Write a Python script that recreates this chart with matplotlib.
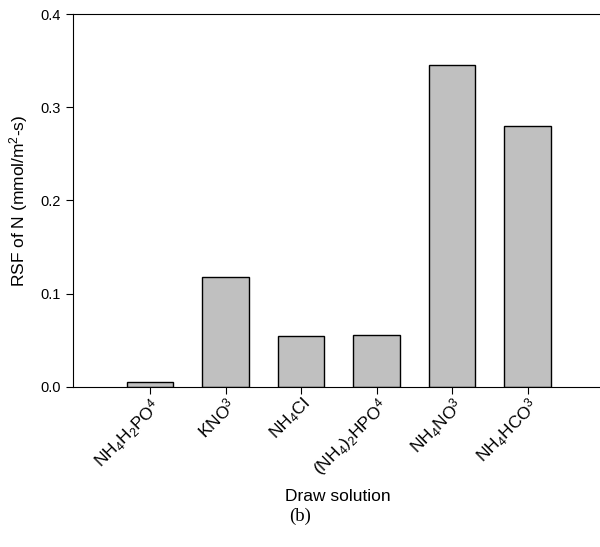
import matplotlib
matplotlib.use("Agg")
import matplotlib.pyplot as plt
import numpy as np

plt.rcParams['font.family'] = ['Liberation Sans', 'DejaVu Sans']
plt.rcParams['mathtext.fontset'] = 'custom'
plt.rcParams['mathtext.rm'] = 'Liberation Sans'
plt.rcParams['mathtext.it'] = 'Liberation Sans'

# draw solutions and their reverse solute flux of N
solutions = [r'NH$_4$H$_2$PO$^4$', r'KNO$^3$', r'NH$_4$Cl',
             r'(NH$_4$)$_2$HPO$^4$', r'NH$_4$NO$^3$', r'NH$_4$HCO$^3$']
rsf = [0.005, 0.118, 0.054, 0.056, 0.346, 0.280]
yticks = [0.0, 0.1, 0.2, 0.3, 0.4]

fig = plt.figure(figsize=(6, 5.47), dpi=100)
ax = fig.add_axes([73 / 600, 0.293, 530 / 600, 0.681])

x = np.arange(len(solutions))
ax.bar(x, rsf, width=0.61, color='#c0c0c0', edgecolor='black', linewidth=1.0)

ax.set_xlim(-1.02, 6)
ax.set_ylim(0, 0.4)
ax.set_yticks(yticks)
ax.set_yticklabels(['%.1f' % t for t in yticks], fontsize=10.5)
ax.set_xticks(x)
ax.set_xticklabels(solutions, fontsize=12.5, rotation=45, ha='right',
                   rotation_mode='anchor')
ax.tick_params(axis='both', direction='out', length=5, width=0.8)
ax.tick_params(axis='x', pad=1)
ax.spines['right'].set_visible(False)

ax.set_ylabel(r'RSF of N (mmol/m$^2$-s)', fontsize=12.5, labelpad=8)
ax.set_xlabel('Draw solution', fontsize=12.5, labelpad=6)

fig.text(300, 547 - 516, '(b)', transform=None, fontsize=13.5,
         family='Liberation Serif', ha='center', va='center')

fig.savefig('out.png', dpi=100)
